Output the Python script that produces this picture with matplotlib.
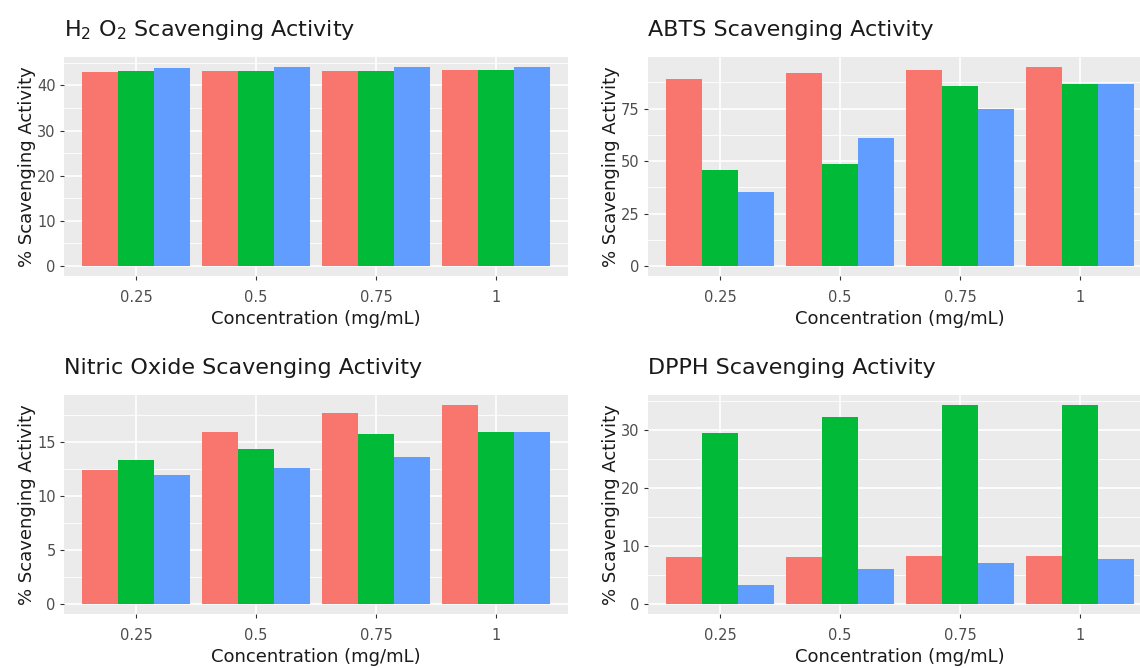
import matplotlib
matplotlib.use("Agg")
import matplotlib.pyplot as plt
import numpy as np
from matplotlib.ticker import MultipleLocator

plt.rcParams['font.family'] = ['DejaVu Sans']
plt.rcParams['mathtext.fontset'] = 'dejavusans'

categories = ["0.25", "0.5", "0.75", "1"]
series_colors = ["#F8766D", "#00BA38", "#619CFF"]

h2o2_s1 = [43.0, 43.2, 43.2, 43.5]
h2o2_s2 = [43.3, 43.2, 43.2, 43.5]
h2o2_s3 = [43.8, 44.1, 44.1, 44.1]

abts_s1 = [89.1, 92.0, 93.3, 94.9]
abts_s2 = [46.0, 48.7, 86.0, 86.9]
abts_s3 = [35.2, 60.8, 75.0, 86.9]

no_s1 = [12.4, 15.9, 17.7, 18.4]
no_s2 = [13.3, 14.3, 15.7, 15.9]
no_s3 = [11.9, 12.6, 13.6, 15.9]

dpph_s1 = [8.1, 8.1, 8.35, 8.35]
dpph_s2 = [29.4, 32.3, 34.3, 34.3]
dpph_s3 = [3.2, 6.1, 7.1, 7.8]

panels = [
    ("H$_2$ O$_2$ Scavenging Activity", [h2o2_s1, h2o2_s2, h2o2_s3], 10, [64, 57, 568, 276]),
    ("ABTS Scavenging Activity", [abts_s1, abts_s2, abts_s3], 25, [648, 57, 1152, 276]),
    ("Nitric Oxide Scavenging Activity", [no_s1, no_s2, no_s3], 5, [64, 395, 568, 614]),
    ("DPPH Scavenging Activity", [dpph_s1, dpph_s2, dpph_s3], 10, [648, 395, 1152, 614]),
]

W, H = 1140, 668
fig = plt.figure(figsize=(W / 100, H / 100), dpi=100)

x = np.arange(1, len(categories) + 1)
bw = 0.9 / 3

for title, series, step, (l, t, r, b) in panels:
    ax = fig.add_axes([l / W, 1 - b / H, (r - l) / W, (b - t) / H])
    ax.set_facecolor("#EBEBEB")
    for i, vals in enumerate(series):
        ax.bar(x + (i - 1) * bw, vals, width=bw, color=series_colors[i], zorder=3)
    ymax = max(max(s) for s in series)
    ax.set_ylim(-0.05 * ymax, 1.05 * ymax)
    ax.set_xlim(0.4, len(categories) + 0.6)
    ax.set_xticks(x)
    ax.set_xticklabels(categories)
    ax.yaxis.set_major_locator(MultipleLocator(step))
    ax.yaxis.set_minor_locator(MultipleLocator(step / 2))
    ax.grid(which="major", color="white", linewidth=1.2, zorder=1)
    ax.grid(which="minor", axis="y", color="white", linewidth=0.6, zorder=1)
    for sp in ax.spines.values():
        sp.set_visible(False)
    ax.tick_params(which="major", length=3, width=0.8, color="#333333",
                   labelcolor="#4D4D4D", labelsize=10.5)
    ax.tick_params(axis="x", which="major", pad=7)
    ax.tick_params(axis="y", which="major", pad=3)
    ax.tick_params(which="minor", length=0)
    ax.set_xlabel("Concentration (mg/mL)", fontsize=13, color="#1A1A1A", labelpad=4)
    ax.set_ylabel("% Scavenging Activity", fontsize=13, color="#1A1A1A", labelpad=1)
    ax.set_title(title, loc="left", fontsize=16, color="#1A1A1A", pad=15)
    ax.set_axisbelow(True)

fig.savefig("out.png", dpi=100, facecolor="white")
